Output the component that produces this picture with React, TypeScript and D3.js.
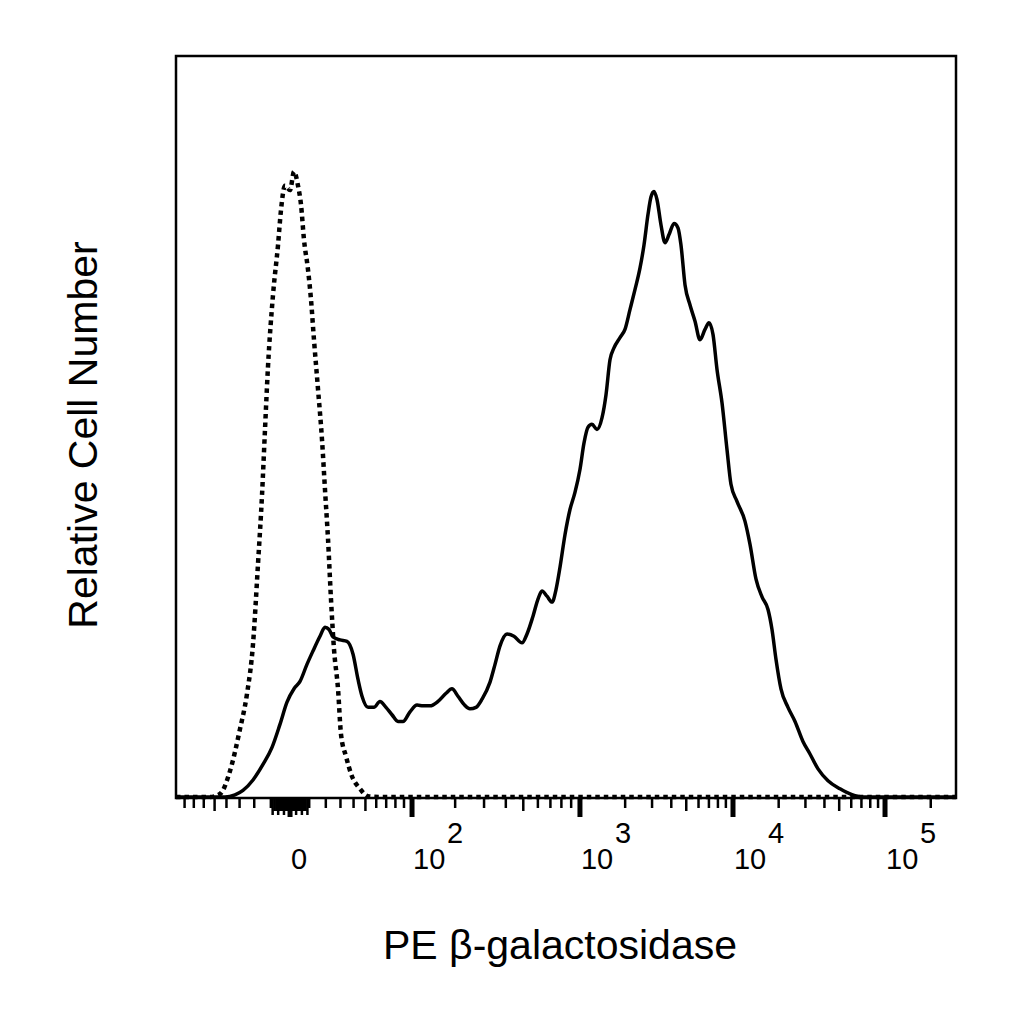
import React from 'react';
import * as d3 from 'd3';

// Histogram of the stained sample: [display channel (0-1000), relative count]
const stainedHistogram: [number, number][] = [
  [0, 0], [62.8, 0], [75.6, 0.3], [85.9, 0.9], [98.7, 2.3], [111.5, 4.4], [123.1, 6.7],
  [133.3, 9.8], [142.3, 12.8], [151.3, 14.6], [159.0, 15.6], [167.9, 17.9], [175.6, 19.7],
  [184.6, 21.7], [191.0, 22.9], [196.2, 22.6], [201.3, 21.6], [210.3, 21.2], [219.2, 21.0],
  [226.9, 19.3], [233.3, 15.9], [238.5, 13.6], [246.2, 12.1], [253.8, 12.1], [261.5, 12.9],
  [269.2, 12.1], [276.9, 11.1], [284.6, 10.2], [291.0, 10.2], [300.0, 11.5], [309.0, 12.4],
  [316.7, 12.3], [325.6, 12.3], [335.9, 12.9], [346.2, 14.0], [353.8, 14.6], [361.5, 13.6],
  [369.2, 12.5], [376.9, 11.9], [384.6, 12.1], [392.3, 13.2], [402.6, 15.5], [409.0, 17.9],
  [415.4, 20.4], [424.4, 22.0], [433.3, 21.7], [443.6, 20.8], [450.0, 22.0], [457.7, 24.4],
  [464.1, 26.7], [469.2, 27.8], [475.6, 27.1], [482.1, 26.3], [487.2, 28.0], [492.3, 31.0],
  [498.7, 35.4], [505.1, 38.8], [511.5, 41.1], [517.9, 44.2], [523.1, 47.8], [528.2, 49.9],
  [533.3, 50.3], [539.7, 49.6], [546.2, 51.2], [551.3, 54.3], [556.4, 59.0], [561.5, 60.6],
  [569.2, 62.0], [575.6, 63.1], [582.1, 65.8], [588.5, 68.5], [594.9, 71.4], [600.0, 74.5],
  [605.1, 78.6], [609.0, 81.0], [612.8, 81.7], [616.7, 80.6], [621.8, 77.2], [626.9, 74.8],
  [632.1, 75.9], [638.5, 77.4], [643.6, 76.8], [647.4, 74.5], [652.6, 69.1], [659.0, 66.4],
  [665.4, 64.2], [671.8, 61.7], [678.2, 63.1], [683.3, 64.0], [688.5, 62.4], [693.6, 57.7],
  [700.0, 53.2], [706.4, 46.9], [711.5, 42.2], [719.2, 39.9], [729.5, 37.2], [735.9, 34.1],
  [743.6, 29.4], [751.3, 27.0], [759.0, 25.3], [764.1, 22.6], [769.2, 18.6], [775.6, 14.6],
  [784.6, 12.1], [793.6, 10.2], [803.8, 7.5], [812.8, 5.8], [823.1, 3.8], [835.9, 2.2],
  [851.3, 1.1], [866.7, 0.3], [879.5, 0], [1000, 0],
];

// Isotype control histogram (dotted)
const controlHistogram: [number, number][] = [
  [0, 0], [43.6, 0], [56.4, 0.4], [69.2, 3.5], [82.1, 9.2], [91.0, 13.9], [98.7, 20.6],
  [105.1, 31.4], [110.3, 40.8], [114.1, 49.6], [117.9, 58.0], [124.4, 67.8], [130.8, 74.5],
  [134.6, 79.2], [139.7, 82.5], [146.2, 81.9], [151.3, 84.4], [156.4, 82.5], [160.3, 79.9],
  [164.1, 75.2], [169.2, 71.2], [173.1, 67.1], [176.9, 61.7], [182.1, 55.0], [187.2, 48.2],
  [191.0, 41.5], [194.9, 34.8], [198.7, 26.7], [202.6, 19.9], [207.7, 14.6], [211.5, 8.5],
  [217.9, 5.5], [225.6, 2.8], [235.9, 1.1], [246.2, 0.1], [261.5, 0], [1000, 0],
];

// biexponential axis: fluorescence value -> display channel
const axisAnchors = [-100, 0, 100, 1000, 10000, 100000, 1000000];
const anchorChannels = [-10.3, 146.2, 302.6, 517.9, 714.1, 909.0, 1103.8];

const majorTicks = [0, 100, 1000, 10000, 100000];
const majorExponents = [null, '2', '3', '4', '5'];
const multiples = [2, 3, 4, 5, 6, 7, 8, 9];

const W = 1024;
const H = 1024;
const plot = { left: 176, top: 56, right: 956, bottom: 798 };
const font = '"Liberation Sans", Arial, sans-serif';

const T = (v: number) => Math.sign(v) * Math.log10(1 + Math.abs(v) / 60);

export default function App() {
  const xChan = d3.scaleLinear().domain([0, 1000]).range([plot.left, plot.right]);
  const valToChan = d3.scaleLinear().domain(axisAnchors.map(T)).range(anchorChannels);
  const xVal = (v: number) => xChan(valToChan(T(v)));
  const y = d3.scaleLinear().domain([0, 100]).range([plot.bottom - 1, plot.top]);

  const line = d3
    .line<[number, number]>()
    .x((d) => xChan(d[0]))
    .y((d) => y(d[1]))
    .curve(d3.curveMonotoneX);

  // tick list: value, length, width
  const ticks: { v: number; len: number; w: number }[] = [];
  for (let i = 1; i <= 9; i++) {
    ticks.push({ v: i, len: i % 3 === 0 ? 17 : 13, w: 2.5 });
    ticks.push({ v: -i, len: i % 3 === 0 ? 17 : 13, w: 2.5 });
  }
  for (let i = 1; i <= 9; i++) {
    const len = i === 5 ? 13 : 10;
    ticks.push({ v: i * 10, len, w: 2.5 });
    ticks.push({ v: -i * 10, len, w: 2.5 });
  }
  [100, 1000, 10000, 100000].forEach((d) =>
    multiples.forEach((m) => ticks.push({ v: d * m, len: m === 5 ? 13 : 10, w: 2.5 }))
  );
  majorTicks.forEach((v) => ticks.push({ v, len: 19, w: 5 }));
  const visibleTicks = ticks.filter((t) => {
    const px = xVal(t.v);
    return px > plot.left + 3 && px < plot.right - 3;
  });

  return (
    <svg
      width={W}
      height={H}
      style={{ position: 'absolute', left: 0, top: 0, background: '#fff' }}
    >
      <rect x={0} y={0} width={W} height={H} fill="#fff" />

      <path
        d={line(controlHistogram) ?? ''}
        fill="none"
        stroke="#000"
        strokeWidth={4.5}
        strokeDasharray="4.5 4"
      />
      <path d={line(stainedHistogram) ?? ''} fill="none" stroke="#000" strokeWidth={3.5} />

      <rect
        x={plot.left}
        y={plot.top}
        width={plot.right - plot.left}
        height={plot.bottom - plot.top}
        fill="none"
        stroke="#000"
        strokeWidth={2.5}
      />

      {visibleTicks.map((t, i) => (
        <line
          key={i}
          x1={xVal(t.v)}
          x2={xVal(t.v)}
          y1={plot.bottom}
          y2={plot.bottom + t.len}
          stroke="#000"
          strokeWidth={t.w}
        />
      ))}

      {majorTicks.map((v, i) => {
        const px = xVal(v);
        const exp = majorExponents[i];
        return (
          <g key={v} fontFamily={font} fontSize={29} fill="#000">
            <text x={px + 1} y={869}>
              {exp ? '10' : '0'}
            </text>
            {exp && (
              <text x={px + 35} y={843}>
                {exp}
              </text>
            )}
          </g>
        );
      })}

      <text
        x={(plot.left + plot.right) / 2 - 6}
        y={959}
        textAnchor="middle"
        fontFamily={font}
        fontSize={41}
        fill="#000"
      >
        PE β-galactosidase
      </text>
      <text
        transform={`translate(97, 435) rotate(-90)`}
        textAnchor="middle"
        fontFamily={font}
        fontSize={41}
        fill="#000"
      >
        Relative Cell Number
      </text>
    </svg>
  );
}
